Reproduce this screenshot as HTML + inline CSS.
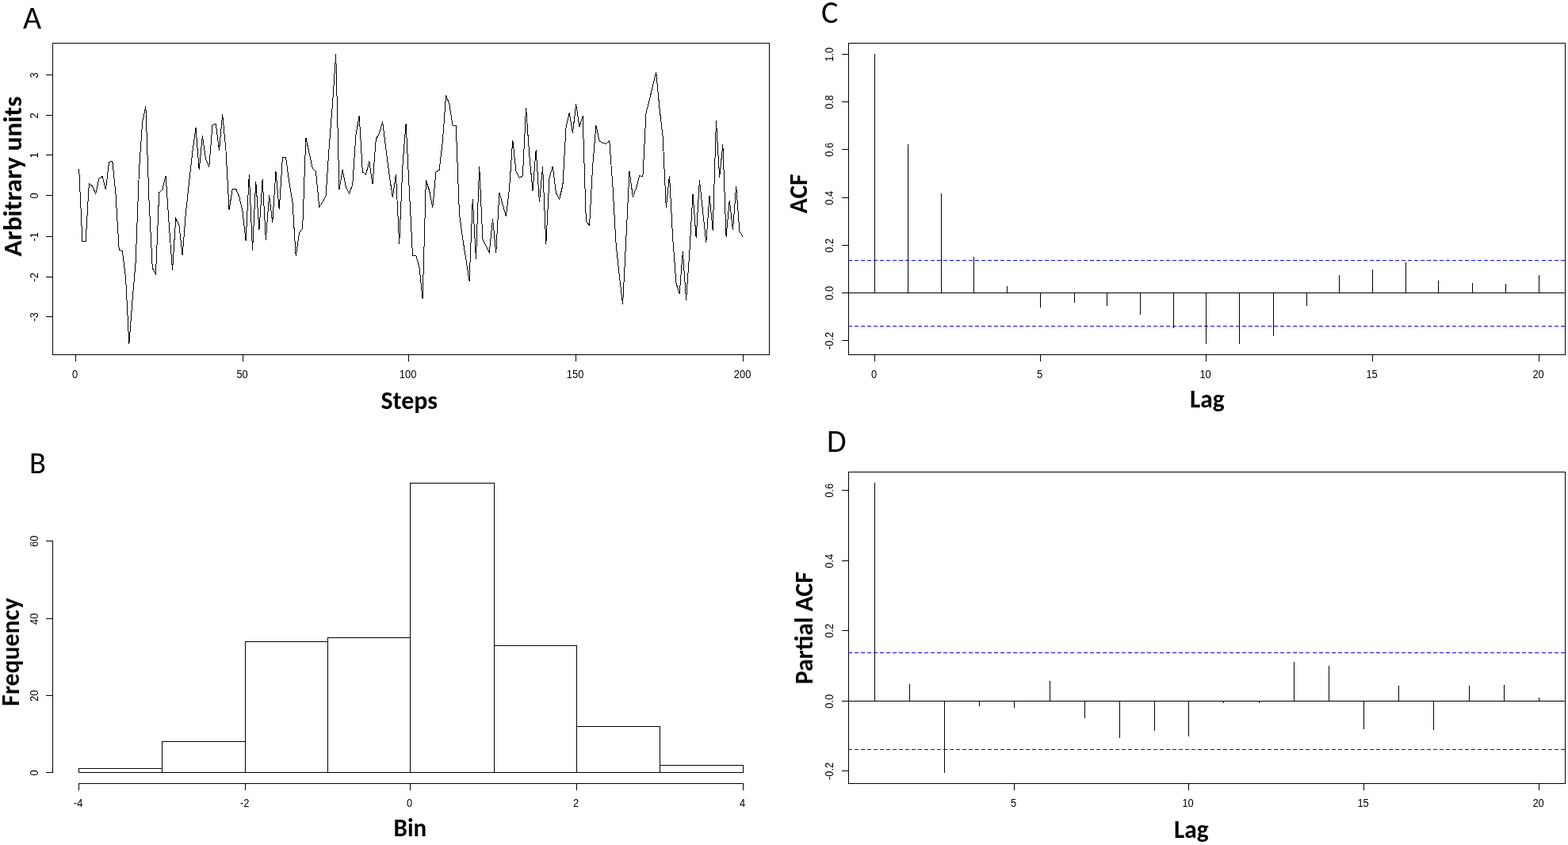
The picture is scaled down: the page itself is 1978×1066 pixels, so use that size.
<!DOCTYPE html>
<html><head><meta charset="utf-8"><title>Time series figure</title>
<style>
html,body{margin:0;padding:0;background:#fff;}
svg{display:block;}
rect{shape-rendering:crispEdges;}
.t{font-family:"Liberation Sans", Arial, sans-serif;font-size:14px;fill:#000;}
.b{font-family:Carlito, Calibri, "Liberation Sans", sans-serif;font-weight:bold;font-size:32px;fill:#000;}
.L{font-family:Carlito, Calibri, "Liberation Sans", sans-serif;font-size:40px;fill:#000;}
</style></head>
<body>
<svg width="1978" height="1066" viewBox="0 0 1978 1066">
<rect x="0" y="0" width="1978" height="1066" fill="#fff"/>
<rect x="66" y="54" width="905" height="1" fill="#000"/>
<rect x="66" y="447" width="905" height="1" fill="#000"/>
<rect x="66" y="54" width="1" height="394" fill="#000"/>
<rect x="970" y="54" width="1" height="394" fill="#000"/>
<rect x="58" y="94" width="8" height="1" fill="#000"/>
<text class="t" text-anchor="middle" transform="translate(48,94.85) rotate(-90) scale(0.92,1)">3</text>
<rect x="58" y="145" width="8" height="1" fill="#000"/>
<text class="t" text-anchor="middle" transform="translate(48,145.85) rotate(-90) scale(0.92,1)">2</text>
<rect x="58" y="195" width="8" height="1" fill="#000"/>
<text class="t" text-anchor="middle" transform="translate(48,195.85) rotate(-90) scale(0.92,1)">1</text>
<rect x="58" y="246" width="8" height="1" fill="#000"/>
<text class="t" text-anchor="middle" transform="translate(48,246.85) rotate(-90) scale(0.92,1)">0</text>
<rect x="58" y="298" width="8" height="1" fill="#000"/>
<text class="t" text-anchor="middle" transform="translate(48,298.85) rotate(-90) scale(0.92,1)">-1</text>
<rect x="58" y="349" width="8" height="1" fill="#000"/>
<text class="t" text-anchor="middle" transform="translate(48,349.85) rotate(-90) scale(0.92,1)">-2</text>
<rect x="58" y="399" width="8" height="1" fill="#000"/>
<text class="t" text-anchor="middle" transform="translate(48,399.85) rotate(-90) scale(0.92,1)">-3</text>
<rect x="95" y="448" width="1" height="8" fill="#000"/>
<text class="t" text-anchor="middle" transform="translate(94.6,477) scale(0.92,1)">0</text>
<rect x="306" y="448" width="1" height="8" fill="#000"/>
<text class="t" text-anchor="middle" transform="translate(305.6,477) scale(0.92,1)">50</text>
<rect x="515" y="448" width="1" height="8" fill="#000"/>
<text class="t" text-anchor="middle" transform="translate(514.6,477) scale(0.92,1)">100</text>
<rect x="726" y="448" width="1" height="8" fill="#000"/>
<text class="t" text-anchor="middle" transform="translate(725.6,477) scale(0.92,1)">150</text>
<rect x="937" y="448" width="1" height="8" fill="#000"/>
<text class="t" text-anchor="middle" transform="translate(936.6,477) scale(0.92,1)">200</text>
<polyline points="99.71,213.40 103.92,304.40 108.12,304.40 112.33,231.40 116.54,235.00 120.75,244.40 124.96,225.00 129.16,222.60 133.37,239.40 137.58,204.40 141.79,203.20 146.00,245.00 150.20,315.00 154.41,317.00 158.62,351.00 162.83,434.00 167.04,379.00 171.24,329.00 175.45,215.00 179.66,154.00 183.87,134.40 188.08,255.00 192.28,338.00 196.49,346.00 200.70,243.00 204.91,239.00 209.12,221.60 213.32,285.00 217.53,341.00 221.74,276.00 225.95,284.00 230.16,322.00 234.36,269.00 238.57,230.00 242.78,192.00 246.99,161.30 251.20,214.00 255.40,171.40 259.61,201.00 263.82,210.00 268.03,157.60 272.24,156.30 276.44,189.80 280.65,144.20 284.86,187.80 289.07,264.60 293.28,238.40 297.48,238.40 301.69,248.00 305.90,266.00 310.11,304.00 314.32,219.60 318.52,316.00 322.73,228.60 326.94,290.00 331.15,226.40 335.36,302.60 339.56,246.40 343.77,280.60 347.98,216.40 352.19,264.30 356.40,199.00 360.60,198.40 364.81,230.00 369.02,255.00 373.23,323.40 377.44,294.00 381.64,288.00 385.85,173.60 390.06,193.00 394.27,212.40 398.48,216.40 402.68,261.00 406.89,255.00 411.10,247.00 415.31,184.00 419.52,130.00 423.72,68.40 427.93,239.00 432.14,214.40 436.35,236.00 440.56,244.00 444.76,233.00 448.97,170.00 453.18,146.40 457.39,217.00 461.60,220.00 465.80,203.60 470.01,232.40 474.22,176.00 478.43,168.00 482.64,153.60 486.84,188.00 491.05,220.00 495.26,249.00 499.47,220.40 503.68,308.00 507.88,210.00 512.09,155.60 516.30,240.00 520.51,322.20 524.72,322.20 528.92,337.00 533.13,377.40 537.34,227.60 541.55,240.00 545.76,262.00 549.96,217.00 554.17,214.40 558.38,178.00 562.59,120.40 566.80,131.00 571.00,158.00 575.21,158.00 579.42,269.00 583.63,301.00 587.84,327.00 592.04,354.60 596.25,251.50 600.46,326.60 604.67,209.60 608.88,302.00 613.08,310.00 617.29,318.60 621.50,275.60 625.71,319.00 629.92,242.60 634.12,258.00 638.33,273.00 642.54,238.00 646.75,176.60 650.96,216.00 655.16,224.40 659.37,222.00 663.58,135.60 667.79,196.00 672.00,240.50 676.20,188.60 680.41,255.00 684.62,210.40 688.83,308.00 693.04,224.00 697.24,209.60 701.45,243.50 705.66,251.00 709.87,234.00 714.08,160.00 718.28,142.40 722.49,167.60 726.70,131.40 730.91,160.00 735.12,146.40 739.32,279.00 743.53,284.60 747.74,208.00 751.95,158.40 756.16,178.00 760.36,180.00 764.57,181.60 768.78,177.60 772.99,236.00 777.20,309.00 781.40,349.00 785.61,384.00 789.82,301.00 794.03,215.60 798.24,248.00 802.44,238.00 806.65,221.60 810.86,223.00 815.07,142.00 819.28,126.00 823.48,108.00 827.69,91.00 831.90,136.00 836.11,172.00 840.32,262.00 844.52,221.60 848.73,301.00 852.94,357.00 857.15,370.60 861.36,317.40 865.56,379.00 869.77,319.00 873.98,244.60 878.19,300.00 882.40,227.00 886.60,267.00 890.81,306.00 895.02,246.60 899.23,291.00 903.44,152.40 907.64,224.00 911.85,182.40 916.06,298.60 920.27,252.60 924.48,290.00 928.68,234.60 932.89,292.00 937.10,298.60" fill="none" stroke="#000" stroke-width="1" style="shape-rendering:crispEdges"/>
<text x="480.5" y="516.3" class="b" textLength="71.5" lengthAdjust="spacingAndGlyphs">Steps</text>
<text class="b" text-anchor="middle" textLength="202" lengthAdjust="spacingAndGlyphs" transform="translate(27,222.5) rotate(-90)">Arbitrary units</text>
<text x="29" y="35.5" class="L" style="font-size:40px">A</text>
<rect x="66" y="682" width="1" height="293" fill="#000"/>
<rect x="58" y="974" width="8" height="1" fill="#000"/>
<text class="t" text-anchor="middle" transform="translate(48,974.85) rotate(-90) scale(0.92,1)">0</text>
<rect x="58" y="877" width="8" height="1" fill="#000"/>
<text class="t" text-anchor="middle" transform="translate(48,877.85) rotate(-90) scale(0.92,1)">20</text>
<rect x="58" y="780" width="8" height="1" fill="#000"/>
<text class="t" text-anchor="middle" transform="translate(48,780.85) rotate(-90) scale(0.92,1)">40</text>
<rect x="58" y="682" width="8" height="1" fill="#000"/>
<text class="t" text-anchor="middle" transform="translate(48,682.85) rotate(-90) scale(0.92,1)">60</text>
<rect x="99" y="969" width="106" height="1" fill="#000"/>
<rect x="99" y="974" width="106" height="1" fill="#000"/>
<rect x="99" y="969" width="1" height="6" fill="#000"/>
<rect x="204" y="969" width="1" height="6" fill="#000"/>
<rect x="204" y="935" width="106" height="1" fill="#000"/>
<rect x="204" y="974" width="106" height="1" fill="#000"/>
<rect x="204" y="935" width="1" height="40" fill="#000"/>
<rect x="309" y="935" width="1" height="40" fill="#000"/>
<rect x="309" y="809" width="105" height="1" fill="#000"/>
<rect x="309" y="974" width="105" height="1" fill="#000"/>
<rect x="309" y="809" width="1" height="166" fill="#000"/>
<rect x="413" y="809" width="1" height="166" fill="#000"/>
<rect x="413" y="804" width="105" height="1" fill="#000"/>
<rect x="413" y="974" width="105" height="1" fill="#000"/>
<rect x="413" y="804" width="1" height="171" fill="#000"/>
<rect x="517" y="804" width="1" height="171" fill="#000"/>
<rect x="517" y="609" width="107" height="1" fill="#000"/>
<rect x="517" y="974" width="107" height="1" fill="#000"/>
<rect x="517" y="609" width="1" height="366" fill="#000"/>
<rect x="623" y="609" width="1" height="366" fill="#000"/>
<rect x="623" y="814" width="105" height="1" fill="#000"/>
<rect x="623" y="974" width="105" height="1" fill="#000"/>
<rect x="623" y="814" width="1" height="161" fill="#000"/>
<rect x="727" y="814" width="1" height="161" fill="#000"/>
<rect x="727" y="916" width="106" height="1" fill="#000"/>
<rect x="727" y="974" width="106" height="1" fill="#000"/>
<rect x="727" y="916" width="1" height="59" fill="#000"/>
<rect x="832" y="916" width="1" height="59" fill="#000"/>
<rect x="832" y="965" width="106" height="1" fill="#000"/>
<rect x="832" y="974" width="106" height="1" fill="#000"/>
<rect x="832" y="965" width="1" height="10" fill="#000"/>
<rect x="937" y="965" width="1" height="10" fill="#000"/>
<rect x="99" y="988" width="839" height="1" fill="#000"/>
<rect x="99" y="989" width="1" height="8" fill="#000"/>
<text class="t" text-anchor="middle" transform="translate(98.6,1018) scale(0.92,1)">-4</text>
<rect x="309" y="989" width="1" height="8" fill="#000"/>
<text class="t" text-anchor="middle" transform="translate(308.6,1018) scale(0.92,1)">-2</text>
<rect x="517" y="989" width="1" height="8" fill="#000"/>
<text class="t" text-anchor="middle" transform="translate(516.6,1018) scale(0.92,1)">0</text>
<rect x="727" y="989" width="1" height="8" fill="#000"/>
<text class="t" text-anchor="middle" transform="translate(726.6,1018) scale(0.92,1)">2</text>
<rect x="937" y="989" width="1" height="8" fill="#000"/>
<text class="t" text-anchor="middle" transform="translate(936.6,1018) scale(0.92,1)">4</text>
<text x="496.6" y="1055.2" class="b" textLength="41.6" lengthAdjust="spacingAndGlyphs">Bin</text>
<text class="b" text-anchor="middle" textLength="136.6" lengthAdjust="spacingAndGlyphs" transform="translate(23.6,822.6) rotate(-90)">Frequency</text>
<text x="37" y="597" class="L" style="font-size:38.5px">B</text>
<rect x="1070" y="54" width="905" height="1" fill="#000"/>
<rect x="1070" y="447" width="905" height="1" fill="#000"/>
<rect x="1070" y="54" width="1" height="394" fill="#000"/>
<rect x="1974" y="54" width="1" height="394" fill="#000"/>
<rect x="1062" y="429" width="8" height="1" fill="#000"/>
<text class="t" text-anchor="middle" transform="translate(1051,429.85) rotate(-90) scale(0.92,1)">-0.2</text>
<rect x="1062" y="369" width="8" height="1" fill="#000"/>
<text class="t" text-anchor="middle" transform="translate(1051,369.85) rotate(-90) scale(0.92,1)">0.0</text>
<rect x="1062" y="309" width="8" height="1" fill="#000"/>
<text class="t" text-anchor="middle" transform="translate(1051,309.85) rotate(-90) scale(0.92,1)">0.2</text>
<rect x="1062" y="249" width="8" height="1" fill="#000"/>
<text class="t" text-anchor="middle" transform="translate(1051,249.85) rotate(-90) scale(0.92,1)">0.4</text>
<rect x="1062" y="188" width="8" height="1" fill="#000"/>
<text class="t" text-anchor="middle" transform="translate(1051,188.85) rotate(-90) scale(0.92,1)">0.6</text>
<rect x="1062" y="128" width="8" height="1" fill="#000"/>
<text class="t" text-anchor="middle" transform="translate(1051,128.85) rotate(-90) scale(0.92,1)">0.8</text>
<rect x="1062" y="68" width="8" height="1" fill="#000"/>
<text class="t" text-anchor="middle" transform="translate(1051,68.85) rotate(-90) scale(0.92,1)">1.0</text>
<rect x="1103" y="448" width="1" height="8" fill="#000"/>
<text class="t" text-anchor="middle" transform="translate(1102.6,477) scale(0.92,1)">0</text>
<rect x="1312" y="448" width="1" height="8" fill="#000"/>
<text class="t" text-anchor="middle" transform="translate(1311.6,477) scale(0.92,1)">5</text>
<rect x="1521" y="448" width="1" height="8" fill="#000"/>
<text class="t" text-anchor="middle" transform="translate(1520.6,477) scale(0.92,1)">10</text>
<rect x="1731" y="448" width="1" height="8" fill="#000"/>
<text class="t" text-anchor="middle" transform="translate(1730.6,477) scale(0.92,1)">15</text>
<rect x="1941" y="448" width="1" height="8" fill="#000"/>
<text class="t" text-anchor="middle" transform="translate(1940.6,477) scale(0.92,1)">20</text>
<rect x="1070" y="369" width="905" height="1" fill="#000"/>
<rect x="1103" y="68" width="1" height="302" fill="#000"/>
<rect x="1145" y="182" width="1" height="188" fill="#000"/>
<rect x="1187" y="244" width="1" height="126" fill="#000"/>
<rect x="1228" y="324" width="1" height="46" fill="#000"/>
<rect x="1270" y="361" width="1" height="9" fill="#000"/>
<rect x="1312" y="369" width="1" height="19" fill="#000"/>
<rect x="1355" y="369" width="1" height="13" fill="#000"/>
<rect x="1396" y="369" width="1" height="17" fill="#000"/>
<rect x="1438" y="369" width="1" height="28" fill="#000"/>
<rect x="1480" y="369" width="1" height="45" fill="#000"/>
<rect x="1521" y="369" width="1" height="65" fill="#000"/>
<rect x="1563" y="369" width="1" height="65" fill="#000"/>
<rect x="1606" y="369" width="1" height="55" fill="#000"/>
<rect x="1648" y="369" width="1" height="17" fill="#000"/>
<rect x="1689" y="347" width="1" height="23" fill="#000"/>
<rect x="1731" y="340" width="1" height="30" fill="#000"/>
<rect x="1773" y="331" width="1" height="39" fill="#000"/>
<rect x="1814" y="354" width="1" height="16" fill="#000"/>
<rect x="1857" y="357" width="1" height="13" fill="#000"/>
<rect x="1899" y="358" width="1" height="12" fill="#000"/>
<rect x="1941" y="347" width="1" height="23" fill="#000"/>
<rect x="1070" y="328" width="5" height="1" fill="#0000ff"/>
<rect x="1078" y="328" width="5" height="1" fill="#0000ff"/>
<rect x="1086" y="328" width="5" height="1" fill="#0000ff"/>
<rect x="1094" y="328" width="5" height="1" fill="#0000ff"/>
<rect x="1102" y="328" width="5" height="1" fill="#0000ff"/>
<rect x="1110" y="328" width="5" height="1" fill="#0000ff"/>
<rect x="1118" y="328" width="5" height="1" fill="#0000ff"/>
<rect x="1126" y="328" width="5" height="1" fill="#0000ff"/>
<rect x="1134" y="328" width="5" height="1" fill="#0000ff"/>
<rect x="1142" y="328" width="5" height="1" fill="#0000ff"/>
<rect x="1150" y="328" width="5" height="1" fill="#0000ff"/>
<rect x="1158" y="328" width="5" height="1" fill="#0000ff"/>
<rect x="1166" y="328" width="5" height="1" fill="#0000ff"/>
<rect x="1174" y="328" width="5" height="1" fill="#0000ff"/>
<rect x="1182" y="328" width="5" height="1" fill="#0000ff"/>
<rect x="1190" y="328" width="5" height="1" fill="#0000ff"/>
<rect x="1198" y="328" width="5" height="1" fill="#0000ff"/>
<rect x="1206" y="328" width="5" height="1" fill="#0000ff"/>
<rect x="1214" y="328" width="5" height="1" fill="#0000ff"/>
<rect x="1222" y="328" width="5" height="1" fill="#0000ff"/>
<rect x="1230" y="328" width="5" height="1" fill="#0000ff"/>
<rect x="1238" y="328" width="5" height="1" fill="#0000ff"/>
<rect x="1246" y="328" width="5" height="1" fill="#0000ff"/>
<rect x="1254" y="328" width="5" height="1" fill="#0000ff"/>
<rect x="1262" y="328" width="5" height="1" fill="#0000ff"/>
<rect x="1270" y="328" width="5" height="1" fill="#0000ff"/>
<rect x="1278" y="328" width="5" height="1" fill="#0000ff"/>
<rect x="1286" y="328" width="5" height="1" fill="#0000ff"/>
<rect x="1294" y="328" width="5" height="1" fill="#0000ff"/>
<rect x="1302" y="328" width="5" height="1" fill="#0000ff"/>
<rect x="1310" y="328" width="5" height="1" fill="#0000ff"/>
<rect x="1318" y="328" width="5" height="1" fill="#0000ff"/>
<rect x="1326" y="328" width="5" height="1" fill="#0000ff"/>
<rect x="1334" y="328" width="5" height="1" fill="#0000ff"/>
<rect x="1342" y="328" width="5" height="1" fill="#0000ff"/>
<rect x="1350" y="328" width="5" height="1" fill="#0000ff"/>
<rect x="1359" y="328" width="5" height="1" fill="#0000ff"/>
<rect x="1367" y="328" width="5" height="1" fill="#0000ff"/>
<rect x="1375" y="328" width="5" height="1" fill="#0000ff"/>
<rect x="1383" y="328" width="5" height="1" fill="#0000ff"/>
<rect x="1391" y="328" width="5" height="1" fill="#0000ff"/>
<rect x="1399" y="328" width="5" height="1" fill="#0000ff"/>
<rect x="1407" y="328" width="5" height="1" fill="#0000ff"/>
<rect x="1415" y="328" width="5" height="1" fill="#0000ff"/>
<rect x="1423" y="328" width="5" height="1" fill="#0000ff"/>
<rect x="1431" y="328" width="5" height="1" fill="#0000ff"/>
<rect x="1439" y="328" width="5" height="1" fill="#0000ff"/>
<rect x="1447" y="328" width="5" height="1" fill="#0000ff"/>
<rect x="1455" y="328" width="5" height="1" fill="#0000ff"/>
<rect x="1463" y="328" width="5" height="1" fill="#0000ff"/>
<rect x="1471" y="328" width="5" height="1" fill="#0000ff"/>
<rect x="1479" y="328" width="5" height="1" fill="#0000ff"/>
<rect x="1487" y="328" width="5" height="1" fill="#0000ff"/>
<rect x="1495" y="328" width="5" height="1" fill="#0000ff"/>
<rect x="1503" y="328" width="5" height="1" fill="#0000ff"/>
<rect x="1511" y="328" width="5" height="1" fill="#0000ff"/>
<rect x="1519" y="328" width="5" height="1" fill="#0000ff"/>
<rect x="1527" y="328" width="5" height="1" fill="#0000ff"/>
<rect x="1535" y="328" width="5" height="1" fill="#0000ff"/>
<rect x="1543" y="328" width="5" height="1" fill="#0000ff"/>
<rect x="1551" y="328" width="5" height="1" fill="#0000ff"/>
<rect x="1559" y="328" width="5" height="1" fill="#0000ff"/>
<rect x="1567" y="328" width="5" height="1" fill="#0000ff"/>
<rect x="1575" y="328" width="5" height="1" fill="#0000ff"/>
<rect x="1583" y="328" width="5" height="1" fill="#0000ff"/>
<rect x="1591" y="328" width="5" height="1" fill="#0000ff"/>
<rect x="1599" y="328" width="5" height="1" fill="#0000ff"/>
<rect x="1607" y="328" width="5" height="1" fill="#0000ff"/>
<rect x="1615" y="328" width="5" height="1" fill="#0000ff"/>
<rect x="1623" y="328" width="5" height="1" fill="#0000ff"/>
<rect x="1631" y="328" width="5" height="1" fill="#0000ff"/>
<rect x="1639" y="328" width="5" height="1" fill="#0000ff"/>
<rect x="1647" y="328" width="5" height="1" fill="#0000ff"/>
<rect x="1656" y="328" width="5" height="1" fill="#0000ff"/>
<rect x="1664" y="328" width="5" height="1" fill="#0000ff"/>
<rect x="1672" y="328" width="5" height="1" fill="#0000ff"/>
<rect x="1680" y="328" width="5" height="1" fill="#0000ff"/>
<rect x="1688" y="328" width="5" height="1" fill="#0000ff"/>
<rect x="1696" y="328" width="5" height="1" fill="#0000ff"/>
<rect x="1704" y="328" width="5" height="1" fill="#0000ff"/>
<rect x="1712" y="328" width="5" height="1" fill="#0000ff"/>
<rect x="1720" y="328" width="5" height="1" fill="#0000ff"/>
<rect x="1728" y="328" width="5" height="1" fill="#0000ff"/>
<rect x="1736" y="328" width="5" height="1" fill="#0000ff"/>
<rect x="1744" y="328" width="5" height="1" fill="#0000ff"/>
<rect x="1752" y="328" width="5" height="1" fill="#0000ff"/>
<rect x="1760" y="328" width="5" height="1" fill="#0000ff"/>
<rect x="1768" y="328" width="5" height="1" fill="#0000ff"/>
<rect x="1776" y="328" width="5" height="1" fill="#0000ff"/>
<rect x="1784" y="328" width="5" height="1" fill="#0000ff"/>
<rect x="1792" y="328" width="5" height="1" fill="#0000ff"/>
<rect x="1800" y="328" width="5" height="1" fill="#0000ff"/>
<rect x="1808" y="328" width="5" height="1" fill="#0000ff"/>
<rect x="1816" y="328" width="5" height="1" fill="#0000ff"/>
<rect x="1824" y="328" width="5" height="1" fill="#0000ff"/>
<rect x="1832" y="328" width="5" height="1" fill="#0000ff"/>
<rect x="1840" y="328" width="5" height="1" fill="#0000ff"/>
<rect x="1848" y="328" width="5" height="1" fill="#0000ff"/>
<rect x="1856" y="328" width="5" height="1" fill="#0000ff"/>
<rect x="1864" y="328" width="5" height="1" fill="#0000ff"/>
<rect x="1872" y="328" width="5" height="1" fill="#0000ff"/>
<rect x="1880" y="328" width="5" height="1" fill="#0000ff"/>
<rect x="1888" y="328" width="5" height="1" fill="#0000ff"/>
<rect x="1896" y="328" width="5" height="1" fill="#0000ff"/>
<rect x="1904" y="328" width="5" height="1" fill="#0000ff"/>
<rect x="1912" y="328" width="5" height="1" fill="#0000ff"/>
<rect x="1920" y="328" width="5" height="1" fill="#0000ff"/>
<rect x="1928" y="328" width="5" height="1" fill="#0000ff"/>
<rect x="1936" y="328" width="5" height="1" fill="#0000ff"/>
<rect x="1945" y="328" width="5" height="1" fill="#0000ff"/>
<rect x="1953" y="328" width="5" height="1" fill="#0000ff"/>
<rect x="1961" y="328" width="5" height="1" fill="#0000ff"/>
<rect x="1969" y="328" width="5" height="1" fill="#0000ff"/>
<rect x="1070" y="411" width="5" height="1" fill="#0000ff"/>
<rect x="1078" y="411" width="5" height="1" fill="#0000ff"/>
<rect x="1086" y="411" width="5" height="1" fill="#0000ff"/>
<rect x="1094" y="411" width="5" height="1" fill="#0000ff"/>
<rect x="1102" y="411" width="5" height="1" fill="#0000ff"/>
<rect x="1110" y="411" width="5" height="1" fill="#0000ff"/>
<rect x="1118" y="411" width="5" height="1" fill="#0000ff"/>
<rect x="1126" y="411" width="5" height="1" fill="#0000ff"/>
<rect x="1134" y="411" width="5" height="1" fill="#0000ff"/>
<rect x="1142" y="411" width="5" height="1" fill="#0000ff"/>
<rect x="1150" y="411" width="5" height="1" fill="#0000ff"/>
<rect x="1158" y="411" width="5" height="1" fill="#0000ff"/>
<rect x="1166" y="411" width="5" height="1" fill="#0000ff"/>
<rect x="1174" y="411" width="5" height="1" fill="#0000ff"/>
<rect x="1182" y="411" width="5" height="1" fill="#0000ff"/>
<rect x="1190" y="411" width="5" height="1" fill="#0000ff"/>
<rect x="1198" y="411" width="5" height="1" fill="#0000ff"/>
<rect x="1206" y="411" width="5" height="1" fill="#0000ff"/>
<rect x="1214" y="411" width="5" height="1" fill="#0000ff"/>
<rect x="1222" y="411" width="5" height="1" fill="#0000ff"/>
<rect x="1230" y="411" width="5" height="1" fill="#0000ff"/>
<rect x="1238" y="411" width="5" height="1" fill="#0000ff"/>
<rect x="1246" y="411" width="5" height="1" fill="#0000ff"/>
<rect x="1254" y="411" width="5" height="1" fill="#0000ff"/>
<rect x="1262" y="411" width="5" height="1" fill="#0000ff"/>
<rect x="1270" y="411" width="5" height="1" fill="#0000ff"/>
<rect x="1278" y="411" width="5" height="1" fill="#0000ff"/>
<rect x="1286" y="411" width="5" height="1" fill="#0000ff"/>
<rect x="1294" y="411" width="5" height="1" fill="#0000ff"/>
<rect x="1302" y="411" width="5" height="1" fill="#0000ff"/>
<rect x="1310" y="411" width="5" height="1" fill="#0000ff"/>
<rect x="1318" y="411" width="5" height="1" fill="#0000ff"/>
<rect x="1326" y="411" width="5" height="1" fill="#0000ff"/>
<rect x="1334" y="411" width="5" height="1" fill="#0000ff"/>
<rect x="1342" y="411" width="5" height="1" fill="#0000ff"/>
<rect x="1350" y="411" width="5" height="1" fill="#0000ff"/>
<rect x="1359" y="411" width="5" height="1" fill="#0000ff"/>
<rect x="1367" y="411" width="5" height="1" fill="#0000ff"/>
<rect x="1375" y="411" width="5" height="1" fill="#0000ff"/>
<rect x="1383" y="411" width="5" height="1" fill="#0000ff"/>
<rect x="1391" y="411" width="5" height="1" fill="#0000ff"/>
<rect x="1399" y="411" width="5" height="1" fill="#0000ff"/>
<rect x="1407" y="411" width="5" height="1" fill="#0000ff"/>
<rect x="1415" y="411" width="5" height="1" fill="#0000ff"/>
<rect x="1423" y="411" width="5" height="1" fill="#0000ff"/>
<rect x="1431" y="411" width="5" height="1" fill="#0000ff"/>
<rect x="1439" y="411" width="5" height="1" fill="#0000ff"/>
<rect x="1447" y="411" width="5" height="1" fill="#0000ff"/>
<rect x="1455" y="411" width="5" height="1" fill="#0000ff"/>
<rect x="1463" y="411" width="5" height="1" fill="#0000ff"/>
<rect x="1471" y="411" width="5" height="1" fill="#0000ff"/>
<rect x="1479" y="411" width="5" height="1" fill="#0000ff"/>
<rect x="1487" y="411" width="5" height="1" fill="#0000ff"/>
<rect x="1495" y="411" width="5" height="1" fill="#0000ff"/>
<rect x="1503" y="411" width="5" height="1" fill="#0000ff"/>
<rect x="1511" y="411" width="5" height="1" fill="#0000ff"/>
<rect x="1519" y="411" width="5" height="1" fill="#0000ff"/>
<rect x="1527" y="411" width="5" height="1" fill="#0000ff"/>
<rect x="1535" y="411" width="5" height="1" fill="#0000ff"/>
<rect x="1543" y="411" width="5" height="1" fill="#0000ff"/>
<rect x="1551" y="411" width="5" height="1" fill="#0000ff"/>
<rect x="1559" y="411" width="5" height="1" fill="#0000ff"/>
<rect x="1567" y="411" width="5" height="1" fill="#0000ff"/>
<rect x="1575" y="411" width="5" height="1" fill="#0000ff"/>
<rect x="1583" y="411" width="5" height="1" fill="#0000ff"/>
<rect x="1591" y="411" width="5" height="1" fill="#0000ff"/>
<rect x="1599" y="411" width="5" height="1" fill="#0000ff"/>
<rect x="1607" y="411" width="5" height="1" fill="#0000ff"/>
<rect x="1615" y="411" width="5" height="1" fill="#0000ff"/>
<rect x="1623" y="411" width="5" height="1" fill="#0000ff"/>
<rect x="1631" y="411" width="5" height="1" fill="#0000ff"/>
<rect x="1639" y="411" width="5" height="1" fill="#0000ff"/>
<rect x="1647" y="411" width="5" height="1" fill="#0000ff"/>
<rect x="1656" y="411" width="5" height="1" fill="#0000ff"/>
<rect x="1664" y="411" width="5" height="1" fill="#0000ff"/>
<rect x="1672" y="411" width="5" height="1" fill="#0000ff"/>
<rect x="1680" y="411" width="5" height="1" fill="#0000ff"/>
<rect x="1688" y="411" width="5" height="1" fill="#0000ff"/>
<rect x="1696" y="411" width="5" height="1" fill="#0000ff"/>
<rect x="1704" y="411" width="5" height="1" fill="#0000ff"/>
<rect x="1712" y="411" width="5" height="1" fill="#0000ff"/>
<rect x="1720" y="411" width="5" height="1" fill="#0000ff"/>
<rect x="1728" y="411" width="5" height="1" fill="#0000ff"/>
<rect x="1736" y="411" width="5" height="1" fill="#0000ff"/>
<rect x="1744" y="411" width="5" height="1" fill="#0000ff"/>
<rect x="1752" y="411" width="5" height="1" fill="#0000ff"/>
<rect x="1760" y="411" width="5" height="1" fill="#0000ff"/>
<rect x="1768" y="411" width="5" height="1" fill="#0000ff"/>
<rect x="1776" y="411" width="5" height="1" fill="#0000ff"/>
<rect x="1784" y="411" width="5" height="1" fill="#0000ff"/>
<rect x="1792" y="411" width="5" height="1" fill="#0000ff"/>
<rect x="1800" y="411" width="5" height="1" fill="#0000ff"/>
<rect x="1808" y="411" width="5" height="1" fill="#0000ff"/>
<rect x="1816" y="411" width="5" height="1" fill="#0000ff"/>
<rect x="1824" y="411" width="5" height="1" fill="#0000ff"/>
<rect x="1832" y="411" width="5" height="1" fill="#0000ff"/>
<rect x="1840" y="411" width="5" height="1" fill="#0000ff"/>
<rect x="1848" y="411" width="5" height="1" fill="#0000ff"/>
<rect x="1856" y="411" width="5" height="1" fill="#0000ff"/>
<rect x="1864" y="411" width="5" height="1" fill="#0000ff"/>
<rect x="1872" y="411" width="5" height="1" fill="#0000ff"/>
<rect x="1880" y="411" width="5" height="1" fill="#0000ff"/>
<rect x="1888" y="411" width="5" height="1" fill="#0000ff"/>
<rect x="1896" y="411" width="5" height="1" fill="#0000ff"/>
<rect x="1904" y="411" width="5" height="1" fill="#0000ff"/>
<rect x="1912" y="411" width="5" height="1" fill="#0000ff"/>
<rect x="1920" y="411" width="5" height="1" fill="#0000ff"/>
<rect x="1928" y="411" width="5" height="1" fill="#0000ff"/>
<rect x="1936" y="411" width="5" height="1" fill="#0000ff"/>
<rect x="1945" y="411" width="5" height="1" fill="#0000ff"/>
<rect x="1953" y="411" width="5" height="1" fill="#0000ff"/>
<rect x="1961" y="411" width="5" height="1" fill="#0000ff"/>
<rect x="1969" y="411" width="5" height="1" fill="#0000ff"/>
<text x="1501.0" y="514.2" class="b" textLength="43.6" lengthAdjust="spacingAndGlyphs">Lag</text>
<text class="b" text-anchor="middle" textLength="49.8" lengthAdjust="spacingAndGlyphs" transform="translate(1017.5,244.4) rotate(-90)">ACF</text>
<text x="1036" y="28.5" class="L" style="font-size:40px">C</text>
<rect x="1070" y="595" width="905" height="1" fill="#000"/>
<rect x="1070" y="988" width="905" height="1" fill="#000"/>
<rect x="1070" y="595" width="1" height="394" fill="#000"/>
<rect x="1974" y="595" width="1" height="394" fill="#000"/>
<rect x="1062" y="972" width="8" height="1" fill="#000"/>
<text class="t" text-anchor="middle" transform="translate(1051,972.85) rotate(-90) scale(0.92,1)">-0.2</text>
<rect x="1062" y="884" width="8" height="1" fill="#000"/>
<text class="t" text-anchor="middle" transform="translate(1051,884.85) rotate(-90) scale(0.92,1)">0.0</text>
<rect x="1062" y="795" width="8" height="1" fill="#000"/>
<text class="t" text-anchor="middle" transform="translate(1051,795.85) rotate(-90) scale(0.92,1)">0.2</text>
<rect x="1062" y="707" width="8" height="1" fill="#000"/>
<text class="t" text-anchor="middle" transform="translate(1051,707.85) rotate(-90) scale(0.92,1)">0.4</text>
<rect x="1062" y="618" width="8" height="1" fill="#000"/>
<text class="t" text-anchor="middle" transform="translate(1051,618.85) rotate(-90) scale(0.92,1)">0.6</text>
<rect x="1279" y="989" width="1" height="8" fill="#000"/>
<text class="t" text-anchor="middle" transform="translate(1278.6,1018) scale(0.92,1)">5</text>
<rect x="1499" y="989" width="1" height="8" fill="#000"/>
<text class="t" text-anchor="middle" transform="translate(1498.6,1018) scale(0.92,1)">10</text>
<rect x="1720" y="989" width="1" height="8" fill="#000"/>
<text class="t" text-anchor="middle" transform="translate(1719.6,1018) scale(0.92,1)">15</text>
<rect x="1941" y="989" width="1" height="8" fill="#000"/>
<text class="t" text-anchor="middle" transform="translate(1940.6,1018) scale(0.92,1)">20</text>
<rect x="1070" y="884" width="905" height="1" fill="#000"/>
<rect x="1103" y="609" width="1" height="276" fill="#000"/>
<rect x="1147" y="863" width="1" height="22" fill="#000"/>
<rect x="1191" y="884" width="1" height="91" fill="#000"/>
<rect x="1235" y="884" width="1" height="7" fill="#000"/>
<rect x="1279" y="884" width="1" height="9" fill="#000"/>
<rect x="1324" y="859" width="1" height="26" fill="#000"/>
<rect x="1368" y="884" width="1" height="22" fill="#000"/>
<rect x="1412" y="884" width="1" height="47" fill="#000"/>
<rect x="1456" y="884" width="1" height="38" fill="#000"/>
<rect x="1499" y="884" width="1" height="45" fill="#000"/>
<rect x="1543" y="884" width="1" height="3" fill="#000"/>
<rect x="1588" y="884" width="1" height="3" fill="#000"/>
<rect x="1632" y="835" width="1" height="50" fill="#000"/>
<rect x="1676" y="840" width="1" height="45" fill="#000"/>
<rect x="1720" y="884" width="1" height="36" fill="#000"/>
<rect x="1764" y="865" width="1" height="20" fill="#000"/>
<rect x="1808" y="884" width="1" height="37" fill="#000"/>
<rect x="1853" y="865" width="1" height="20" fill="#000"/>
<rect x="1897" y="864" width="1" height="21" fill="#000"/>
<rect x="1941" y="880" width="1" height="5" fill="#000"/>
<rect x="1070" y="823" width="5" height="1" fill="#0000ff"/>
<rect x="1078" y="823" width="5" height="1" fill="#0000ff"/>
<rect x="1086" y="823" width="5" height="1" fill="#0000ff"/>
<rect x="1094" y="823" width="5" height="1" fill="#0000ff"/>
<rect x="1102" y="823" width="5" height="1" fill="#0000ff"/>
<rect x="1110" y="823" width="5" height="1" fill="#0000ff"/>
<rect x="1118" y="823" width="5" height="1" fill="#0000ff"/>
<rect x="1126" y="823" width="5" height="1" fill="#0000ff"/>
<rect x="1134" y="823" width="5" height="1" fill="#0000ff"/>
<rect x="1142" y="823" width="5" height="1" fill="#0000ff"/>
<rect x="1150" y="823" width="5" height="1" fill="#0000ff"/>
<rect x="1158" y="823" width="5" height="1" fill="#0000ff"/>
<rect x="1166" y="823" width="5" height="1" fill="#0000ff"/>
<rect x="1174" y="823" width="5" height="1" fill="#0000ff"/>
<rect x="1182" y="823" width="5" height="1" fill="#0000ff"/>
<rect x="1190" y="823" width="5" height="1" fill="#0000ff"/>
<rect x="1198" y="823" width="5" height="1" fill="#0000ff"/>
<rect x="1206" y="823" width="5" height="1" fill="#0000ff"/>
<rect x="1214" y="823" width="5" height="1" fill="#0000ff"/>
<rect x="1222" y="823" width="5" height="1" fill="#0000ff"/>
<rect x="1230" y="823" width="5" height="1" fill="#0000ff"/>
<rect x="1238" y="823" width="5" height="1" fill="#0000ff"/>
<rect x="1246" y="823" width="5" height="1" fill="#0000ff"/>
<rect x="1254" y="823" width="5" height="1" fill="#0000ff"/>
<rect x="1262" y="823" width="5" height="1" fill="#0000ff"/>
<rect x="1270" y="823" width="5" height="1" fill="#0000ff"/>
<rect x="1278" y="823" width="5" height="1" fill="#0000ff"/>
<rect x="1286" y="823" width="5" height="1" fill="#0000ff"/>
<rect x="1294" y="823" width="5" height="1" fill="#0000ff"/>
<rect x="1302" y="823" width="5" height="1" fill="#0000ff"/>
<rect x="1310" y="823" width="5" height="1" fill="#0000ff"/>
<rect x="1318" y="823" width="5" height="1" fill="#0000ff"/>
<rect x="1326" y="823" width="5" height="1" fill="#0000ff"/>
<rect x="1334" y="823" width="5" height="1" fill="#0000ff"/>
<rect x="1342" y="823" width="5" height="1" fill="#0000ff"/>
<rect x="1350" y="823" width="5" height="1" fill="#0000ff"/>
<rect x="1359" y="823" width="5" height="1" fill="#0000ff"/>
<rect x="1367" y="823" width="5" height="1" fill="#0000ff"/>
<rect x="1375" y="823" width="5" height="1" fill="#0000ff"/>
<rect x="1383" y="823" width="5" height="1" fill="#0000ff"/>
<rect x="1391" y="823" width="5" height="1" fill="#0000ff"/>
<rect x="1399" y="823" width="5" height="1" fill="#0000ff"/>
<rect x="1407" y="823" width="5" height="1" fill="#0000ff"/>
<rect x="1415" y="823" width="5" height="1" fill="#0000ff"/>
<rect x="1423" y="823" width="5" height="1" fill="#0000ff"/>
<rect x="1431" y="823" width="5" height="1" fill="#0000ff"/>
<rect x="1439" y="823" width="5" height="1" fill="#0000ff"/>
<rect x="1447" y="823" width="5" height="1" fill="#0000ff"/>
<rect x="1455" y="823" width="5" height="1" fill="#0000ff"/>
<rect x="1463" y="823" width="5" height="1" fill="#0000ff"/>
<rect x="1471" y="823" width="5" height="1" fill="#0000ff"/>
<rect x="1479" y="823" width="5" height="1" fill="#0000ff"/>
<rect x="1487" y="823" width="5" height="1" fill="#0000ff"/>
<rect x="1495" y="823" width="5" height="1" fill="#0000ff"/>
<rect x="1503" y="823" width="5" height="1" fill="#0000ff"/>
<rect x="1511" y="823" width="5" height="1" fill="#0000ff"/>
<rect x="1519" y="823" width="5" height="1" fill="#0000ff"/>
<rect x="1527" y="823" width="5" height="1" fill="#0000ff"/>
<rect x="1535" y="823" width="5" height="1" fill="#0000ff"/>
<rect x="1543" y="823" width="5" height="1" fill="#0000ff"/>
<rect x="1551" y="823" width="5" height="1" fill="#0000ff"/>
<rect x="1559" y="823" width="5" height="1" fill="#0000ff"/>
<rect x="1567" y="823" width="5" height="1" fill="#0000ff"/>
<rect x="1575" y="823" width="5" height="1" fill="#0000ff"/>
<rect x="1583" y="823" width="5" height="1" fill="#0000ff"/>
<rect x="1591" y="823" width="5" height="1" fill="#0000ff"/>
<rect x="1599" y="823" width="5" height="1" fill="#0000ff"/>
<rect x="1607" y="823" width="5" height="1" fill="#0000ff"/>
<rect x="1615" y="823" width="5" height="1" fill="#0000ff"/>
<rect x="1623" y="823" width="5" height="1" fill="#0000ff"/>
<rect x="1631" y="823" width="5" height="1" fill="#0000ff"/>
<rect x="1639" y="823" width="5" height="1" fill="#0000ff"/>
<rect x="1647" y="823" width="5" height="1" fill="#0000ff"/>
<rect x="1656" y="823" width="5" height="1" fill="#0000ff"/>
<rect x="1664" y="823" width="5" height="1" fill="#0000ff"/>
<rect x="1672" y="823" width="5" height="1" fill="#0000ff"/>
<rect x="1680" y="823" width="5" height="1" fill="#0000ff"/>
<rect x="1688" y="823" width="5" height="1" fill="#0000ff"/>
<rect x="1696" y="823" width="5" height="1" fill="#0000ff"/>
<rect x="1704" y="823" width="5" height="1" fill="#0000ff"/>
<rect x="1712" y="823" width="5" height="1" fill="#0000ff"/>
<rect x="1720" y="823" width="5" height="1" fill="#0000ff"/>
<rect x="1728" y="823" width="5" height="1" fill="#0000ff"/>
<rect x="1736" y="823" width="5" height="1" fill="#0000ff"/>
<rect x="1744" y="823" width="5" height="1" fill="#0000ff"/>
<rect x="1752" y="823" width="5" height="1" fill="#0000ff"/>
<rect x="1760" y="823" width="5" height="1" fill="#0000ff"/>
<rect x="1768" y="823" width="5" height="1" fill="#0000ff"/>
<rect x="1776" y="823" width="5" height="1" fill="#0000ff"/>
<rect x="1784" y="823" width="5" height="1" fill="#0000ff"/>
<rect x="1792" y="823" width="5" height="1" fill="#0000ff"/>
<rect x="1800" y="823" width="5" height="1" fill="#0000ff"/>
<rect x="1808" y="823" width="5" height="1" fill="#0000ff"/>
<rect x="1816" y="823" width="5" height="1" fill="#0000ff"/>
<rect x="1824" y="823" width="5" height="1" fill="#0000ff"/>
<rect x="1832" y="823" width="5" height="1" fill="#0000ff"/>
<rect x="1840" y="823" width="5" height="1" fill="#0000ff"/>
<rect x="1848" y="823" width="5" height="1" fill="#0000ff"/>
<rect x="1856" y="823" width="5" height="1" fill="#0000ff"/>
<rect x="1864" y="823" width="5" height="1" fill="#0000ff"/>
<rect x="1872" y="823" width="5" height="1" fill="#0000ff"/>
<rect x="1880" y="823" width="5" height="1" fill="#0000ff"/>
<rect x="1888" y="823" width="5" height="1" fill="#0000ff"/>
<rect x="1896" y="823" width="5" height="1" fill="#0000ff"/>
<rect x="1904" y="823" width="5" height="1" fill="#0000ff"/>
<rect x="1912" y="823" width="5" height="1" fill="#0000ff"/>
<rect x="1920" y="823" width="5" height="1" fill="#0000ff"/>
<rect x="1928" y="823" width="5" height="1" fill="#0000ff"/>
<rect x="1936" y="823" width="5" height="1" fill="#0000ff"/>
<rect x="1945" y="823" width="5" height="1" fill="#0000ff"/>
<rect x="1953" y="823" width="5" height="1" fill="#0000ff"/>
<rect x="1961" y="823" width="5" height="1" fill="#0000ff"/>
<rect x="1969" y="823" width="5" height="1" fill="#0000ff"/>
<rect x="1070" y="945" width="5" height="1" fill="#0000ff"/>
<rect x="1078" y="945" width="5" height="1" fill="#0000ff"/>
<rect x="1086" y="945" width="5" height="1" fill="#0000ff"/>
<rect x="1094" y="945" width="5" height="1" fill="#0000ff"/>
<rect x="1102" y="945" width="5" height="1" fill="#0000ff"/>
<rect x="1110" y="945" width="5" height="1" fill="#0000ff"/>
<rect x="1118" y="945" width="5" height="1" fill="#0000ff"/>
<rect x="1126" y="945" width="5" height="1" fill="#0000ff"/>
<rect x="1134" y="945" width="5" height="1" fill="#0000ff"/>
<rect x="1142" y="945" width="5" height="1" fill="#0000ff"/>
<rect x="1150" y="945" width="5" height="1" fill="#0000ff"/>
<rect x="1158" y="945" width="5" height="1" fill="#0000ff"/>
<rect x="1166" y="945" width="5" height="1" fill="#0000ff"/>
<rect x="1174" y="945" width="5" height="1" fill="#0000ff"/>
<rect x="1182" y="945" width="5" height="1" fill="#0000ff"/>
<rect x="1190" y="945" width="5" height="1" fill="#0000ff"/>
<rect x="1198" y="945" width="5" height="1" fill="#0000ff"/>
<rect x="1206" y="945" width="5" height="1" fill="#0000ff"/>
<rect x="1214" y="945" width="5" height="1" fill="#0000ff"/>
<rect x="1222" y="945" width="5" height="1" fill="#0000ff"/>
<rect x="1230" y="945" width="5" height="1" fill="#0000ff"/>
<rect x="1238" y="945" width="5" height="1" fill="#0000ff"/>
<rect x="1246" y="945" width="5" height="1" fill="#0000ff"/>
<rect x="1254" y="945" width="5" height="1" fill="#0000ff"/>
<rect x="1262" y="945" width="5" height="1" fill="#0000ff"/>
<rect x="1270" y="945" width="5" height="1" fill="#0000ff"/>
<rect x="1278" y="945" width="5" height="1" fill="#0000ff"/>
<rect x="1286" y="945" width="5" height="1" fill="#0000ff"/>
<rect x="1294" y="945" width="5" height="1" fill="#0000ff"/>
<rect x="1302" y="945" width="5" height="1" fill="#0000ff"/>
<rect x="1310" y="945" width="5" height="1" fill="#0000ff"/>
<rect x="1318" y="945" width="5" height="1" fill="#0000ff"/>
<rect x="1326" y="945" width="5" height="1" fill="#0000ff"/>
<rect x="1334" y="945" width="5" height="1" fill="#0000ff"/>
<rect x="1342" y="945" width="5" height="1" fill="#0000ff"/>
<rect x="1350" y="945" width="5" height="1" fill="#0000ff"/>
<rect x="1359" y="945" width="5" height="1" fill="#0000ff"/>
<rect x="1367" y="945" width="5" height="1" fill="#0000ff"/>
<rect x="1375" y="945" width="5" height="1" fill="#0000ff"/>
<rect x="1383" y="945" width="5" height="1" fill="#0000ff"/>
<rect x="1391" y="945" width="5" height="1" fill="#0000ff"/>
<rect x="1399" y="945" width="5" height="1" fill="#0000ff"/>
<rect x="1407" y="945" width="5" height="1" fill="#0000ff"/>
<rect x="1415" y="945" width="5" height="1" fill="#0000ff"/>
<rect x="1423" y="945" width="5" height="1" fill="#0000ff"/>
<rect x="1431" y="945" width="5" height="1" fill="#0000ff"/>
<rect x="1439" y="945" width="5" height="1" fill="#0000ff"/>
<rect x="1447" y="945" width="5" height="1" fill="#0000ff"/>
<rect x="1455" y="945" width="5" height="1" fill="#0000ff"/>
<rect x="1463" y="945" width="5" height="1" fill="#0000ff"/>
<rect x="1471" y="945" width="5" height="1" fill="#0000ff"/>
<rect x="1479" y="945" width="5" height="1" fill="#0000ff"/>
<rect x="1487" y="945" width="5" height="1" fill="#0000ff"/>
<rect x="1495" y="945" width="5" height="1" fill="#0000ff"/>
<rect x="1503" y="945" width="5" height="1" fill="#0000ff"/>
<rect x="1511" y="945" width="5" height="1" fill="#0000ff"/>
<rect x="1519" y="945" width="5" height="1" fill="#0000ff"/>
<rect x="1527" y="945" width="5" height="1" fill="#0000ff"/>
<rect x="1535" y="945" width="5" height="1" fill="#0000ff"/>
<rect x="1543" y="945" width="5" height="1" fill="#0000ff"/>
<rect x="1551" y="945" width="5" height="1" fill="#0000ff"/>
<rect x="1559" y="945" width="5" height="1" fill="#0000ff"/>
<rect x="1567" y="945" width="5" height="1" fill="#0000ff"/>
<rect x="1575" y="945" width="5" height="1" fill="#0000ff"/>
<rect x="1583" y="945" width="5" height="1" fill="#0000ff"/>
<rect x="1591" y="945" width="5" height="1" fill="#0000ff"/>
<rect x="1599" y="945" width="5" height="1" fill="#0000ff"/>
<rect x="1607" y="945" width="5" height="1" fill="#0000ff"/>
<rect x="1615" y="945" width="5" height="1" fill="#0000ff"/>
<rect x="1623" y="945" width="5" height="1" fill="#0000ff"/>
<rect x="1631" y="945" width="5" height="1" fill="#0000ff"/>
<rect x="1639" y="945" width="5" height="1" fill="#0000ff"/>
<rect x="1647" y="945" width="5" height="1" fill="#0000ff"/>
<rect x="1656" y="945" width="5" height="1" fill="#0000ff"/>
<rect x="1664" y="945" width="5" height="1" fill="#0000ff"/>
<rect x="1672" y="945" width="5" height="1" fill="#0000ff"/>
<rect x="1680" y="945" width="5" height="1" fill="#0000ff"/>
<rect x="1688" y="945" width="5" height="1" fill="#0000ff"/>
<rect x="1696" y="945" width="5" height="1" fill="#0000ff"/>
<rect x="1704" y="945" width="5" height="1" fill="#0000ff"/>
<rect x="1712" y="945" width="5" height="1" fill="#0000ff"/>
<rect x="1720" y="945" width="5" height="1" fill="#0000ff"/>
<rect x="1728" y="945" width="5" height="1" fill="#0000ff"/>
<rect x="1736" y="945" width="5" height="1" fill="#0000ff"/>
<rect x="1744" y="945" width="5" height="1" fill="#0000ff"/>
<rect x="1752" y="945" width="5" height="1" fill="#0000ff"/>
<rect x="1760" y="945" width="5" height="1" fill="#0000ff"/>
<rect x="1768" y="945" width="5" height="1" fill="#0000ff"/>
<rect x="1776" y="945" width="5" height="1" fill="#0000ff"/>
<rect x="1784" y="945" width="5" height="1" fill="#0000ff"/>
<rect x="1792" y="945" width="5" height="1" fill="#0000ff"/>
<rect x="1800" y="945" width="5" height="1" fill="#0000ff"/>
<rect x="1808" y="945" width="5" height="1" fill="#0000ff"/>
<rect x="1816" y="945" width="5" height="1" fill="#0000ff"/>
<rect x="1824" y="945" width="5" height="1" fill="#0000ff"/>
<rect x="1832" y="945" width="5" height="1" fill="#0000ff"/>
<rect x="1840" y="945" width="5" height="1" fill="#0000ff"/>
<rect x="1848" y="945" width="5" height="1" fill="#0000ff"/>
<rect x="1856" y="945" width="5" height="1" fill="#0000ff"/>
<rect x="1864" y="945" width="5" height="1" fill="#0000ff"/>
<rect x="1872" y="945" width="5" height="1" fill="#0000ff"/>
<rect x="1880" y="945" width="5" height="1" fill="#0000ff"/>
<rect x="1888" y="945" width="5" height="1" fill="#0000ff"/>
<rect x="1896" y="945" width="5" height="1" fill="#0000ff"/>
<rect x="1904" y="945" width="5" height="1" fill="#0000ff"/>
<rect x="1912" y="945" width="5" height="1" fill="#0000ff"/>
<rect x="1920" y="945" width="5" height="1" fill="#0000ff"/>
<rect x="1928" y="945" width="5" height="1" fill="#0000ff"/>
<rect x="1936" y="945" width="5" height="1" fill="#0000ff"/>
<rect x="1945" y="945" width="5" height="1" fill="#0000ff"/>
<rect x="1953" y="945" width="5" height="1" fill="#0000ff"/>
<rect x="1961" y="945" width="5" height="1" fill="#0000ff"/>
<rect x="1969" y="945" width="5" height="1" fill="#0000ff"/>
<text x="1481.0" y="1057" class="b" textLength="43.6" lengthAdjust="spacingAndGlyphs">Lag</text>
<text class="b" text-anchor="middle" textLength="142" lengthAdjust="spacingAndGlyphs" transform="translate(1024.5,792.3) rotate(-90)">Partial ACF</text>
<text x="1043" y="570" class="L" style="font-size:40px">D</text>
</svg>
</body></html>
